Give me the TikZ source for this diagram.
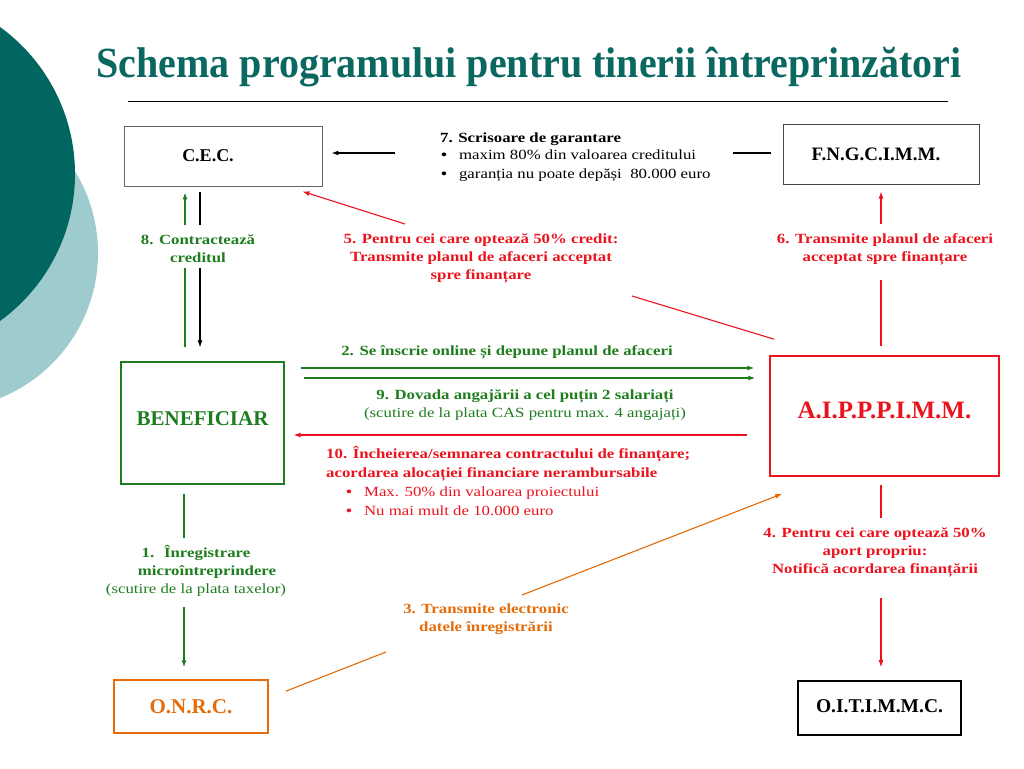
\documentclass[tikz,border=0pt]{standalone}
\usepackage{fontspec}
\setmainfont{Liberation Serif}
\newfontfamily\wide[FakeStretch=1.2]{Liberation Serif}
\usetikzlibrary{arrows.meta,calc}
\definecolor{tealdark}{RGB}{0,102,95}
\definecolor{teallight}{RGB}{158,204,206}
\definecolor{titleteal}{RGB}{10,104,96}
\definecolor{grn}{RGB}{30,125,30}
\definecolor{rd}{RGB}{235,20,30}
\definecolor{org}{RGB}{228,108,10}
\definecolor{gry}{RGB}{100,100,100}
\newcommand{\fs}[1]{\fontsize{#1}{#1}\selectfont}
\begin{document}
\begin{tikzpicture}[x=1pt,y=-1pt,
  box/.style={draw,rectangle,inner sep=0pt,font=\bfseries},
  lab/.style={align=center,font=\wide\bfseries\fontsize{14}{18}\selectfont,inner sep=0pt},
  conn/.style={line width=1.1pt},
  tip/.style={-{Latex[length=7pt,width=5pt]}}]
\useasboundingbox (0,0) rectangle (1024,768);
\fill[white] (0,0) rectangle (1024,768);
% background circles
\fill[teallight] (-58.3,253) circle[radius=156.3];
\fill[tealdark] (-106.6,174) circle[radius=181.6];
% title
\node[text=titleteal,font=\bfseries\fs{43}] (title) at (529,67) {\scalebox{0.93}[1]{Schema programului pentru tinerii întreprinzători}};
\draw[line width=0.8pt] (128,101) -- (948,101);
% boxes
\node[box,draw=gry,line width=0.9pt,minimum width=198pt,minimum height=60pt,font=\bfseries\fs{18}] (cec) at (223,156) {\hspace*{-30pt}C.E.C.};
\node[box,draw=gry!70!black,line width=1pt,minimum width=196pt,minimum height=60pt,font=\bfseries\fs{19}] (fng) at (881,154) {\hspace*{-10pt}F.N.G.C.I.M.M.};
\node[box,draw=grn,line width=1.2pt,minimum width=163pt,minimum height=122pt,text=grn,font=\bfseries\fs{21}] (ben) at (202.5,423) {\raisebox{9pt}{BENEFICIAR}};
\node[box,draw=rd,line width=1.5pt,minimum width=229pt,minimum height=120pt,text=rd,font=\bfseries\fs{25}] (aip) at (884.5,416) {\raisebox{12pt}{A.I.P.P.P.I.M.M.}};
\node[box,draw=org,line width=1.5pt,minimum width=154pt,minimum height=53pt,text=org,font=\bfseries\fs{21}] (onrc) at (191,706.5) {\raisebox{-6pt}{O.N.R.C.}};
\node[box,draw=black,line width=1.6pt,minimum width=163pt,minimum height=54pt,font=\bfseries\fs{19.5}] (oit) at (879.5,708) {\raisebox{4pt}{O.I.T.I.M.M.C.}};
% break coordinates
\coordinate (c7l) at (395,153);
\coordinate (c7r) at (733,153);
\coordinate (g8t) at (185,225);
\coordinate (g8b) at (185,268);
\coordinate (k8t) at (200,225);
\coordinate (k8b) at (200,268);
\coordinate (r5a) at (632,296);
\coordinate (r5b) at (405,224);
\coordinate (r6t) at (881,224);
\coordinate (r6b) at (881,280);
\coordinate (y2) at (0,368);
\coordinate (y9) at (0,378);
\coordinate (y10) at (0,435);
\coordinate (g1t) at (184,538);
\coordinate (g1b) at (184,607);
\coordinate (o3a) at (386,652);
\coordinate (o3b) at (522,595);
\coordinate (r4t) at (881,518);
\coordinate (r4b) at (881,598);
% 7
\draw[conn,shorten <=12pt] (fng.west |- c7r) -- (c7r);
\draw[conn,tip,shorten >=9pt] (c7l) -- (c7l -| cec.east);
\node[anchor=west,align=left,inner sep=0pt,font=\wide\fontsize{14}{18.5}\selectfont] (l7) at (440,157)
 {\textbf{7. Scrisoare de garantare}\\[-1pt]
  \hspace*{1pt}{\bfseries\textbullet}\hspace{12pt}maxim 80\% din valoarea creditului\\
  \hspace*{1pt}{\bfseries\textbullet}\hspace{12pt}garanția nu poate depăși~ 80.000 euro};
% 8
\draw[conn,grn,shorten <=14pt] (g8b |- ben.north) -- (g8b);
\draw[conn,grn,tip,shorten >=6pt] (g8t) -- (g8t |- cec.south);
\draw[conn,black,shorten <=6pt] (k8t |- cec.south) -- (k8t);
\draw[conn,black,tip,shorten >=14pt] (k8b) -- (k8b |- ben.north);
\node[lab,text=grn] (l8) at (198,249) {8. Contractează\\creditul};
% 5
\draw[conn,rd] ($(aip.north west)+(5,-16)$) -- (r5a);
\draw[conn,rd,tip] (r5b) -- ($(cec.south east)+(-20,5)$);
\node[lab,text=rd] (l5) at (481,258) {5. Pentru cei care optează 50\% credit:\\Transmite planul de afaceri acceptat\\spre finanțare};
% 6
\draw[conn,rd,shorten <=9pt] (r6b |- aip.north) -- (r6b);
\draw[conn,rd,tip,shorten >=7pt] (r6t) -- (r6t |- fng.south);
\node[lab,text=rd] (l6) at (885,249) {6. Transmite planul de afaceri\\acceptat spre finanțare};
% 2 and 9
\draw[conn,grn,tip,shorten <=16pt,shorten >=15pt] (ben.east |- y2) -- (aip.west |- y2);
\draw[conn,grn,tip,shorten <=19pt,shorten >=14pt] (ben.east |- y9) -- (aip.west |- y9);
\node[lab,text=grn] (l2) at (507,352) {2. Se înscrie online și depune planul de afaceri};
\node[lab,text=grn] (l9) at (525,405) {9. Dovada angajării a cel puțin 2 salariați\\\mdseries (scutire de la plata CAS pentru max. 4 angajați)};
% 10
\draw[conn,rd,tip,shorten <=22pt,shorten >=9pt] (aip.west |- y10) -- (ben.east |- y10);
\node[anchor=west,align=left,inner sep=0pt,text=rd,font=\wide\fontsize{14}{18.5}\selectfont] (l10) at (326,481)
 {\textbf{10. Încheierea/semnarea contractului de finanțare;}\\
  \textbf{acordarea alocației financiare nerambursabile}\\[1pt]
  \hspace*{20pt}{\bfseries\textbullet}\hspace{12pt}Max. 50\% din valoarea proiectului\\
  \hspace*{20pt}{\bfseries\textbullet}\hspace{12pt}Nu mai mult de 10.000 euro};
% 1
\draw[conn,grn,shorten <=9pt] (g1t |- ben.south) -- (g1t);
\draw[conn,grn,tip,shorten >=12pt] (g1b) -- (g1b |- onrc.north);
\node[lab,text=grn] (l1) at (196,571) {1.~ Înregistrare\\\hspace*{22pt}microîntreprindere\\\mdseries (scutire de la plata taxelor)};
% 3
\draw[conn,org] ($(onrc.north east)+(17,12)$) -- (o3a);
\draw[conn,org,tip] (o3b) -- ($(aip.south west)+(13,17)$);
\node[lab,text=org] (l3) at (486,619) {3. Transmite electronic\\datele înregistrării};
% 4
\draw[conn,rd,shorten <=8pt] (r4t |- aip.south) -- (r4t);
\draw[conn,rd,tip,shorten >=13pt] (r4b) -- (r4b |- oit.north);
\node[lab,text=rd] (l4) at (875,552) {4. Pentru cei care optează 50\%\\aport propriu:\\Notifică acordarea finanțării};
\end{tikzpicture}
\end{document}
